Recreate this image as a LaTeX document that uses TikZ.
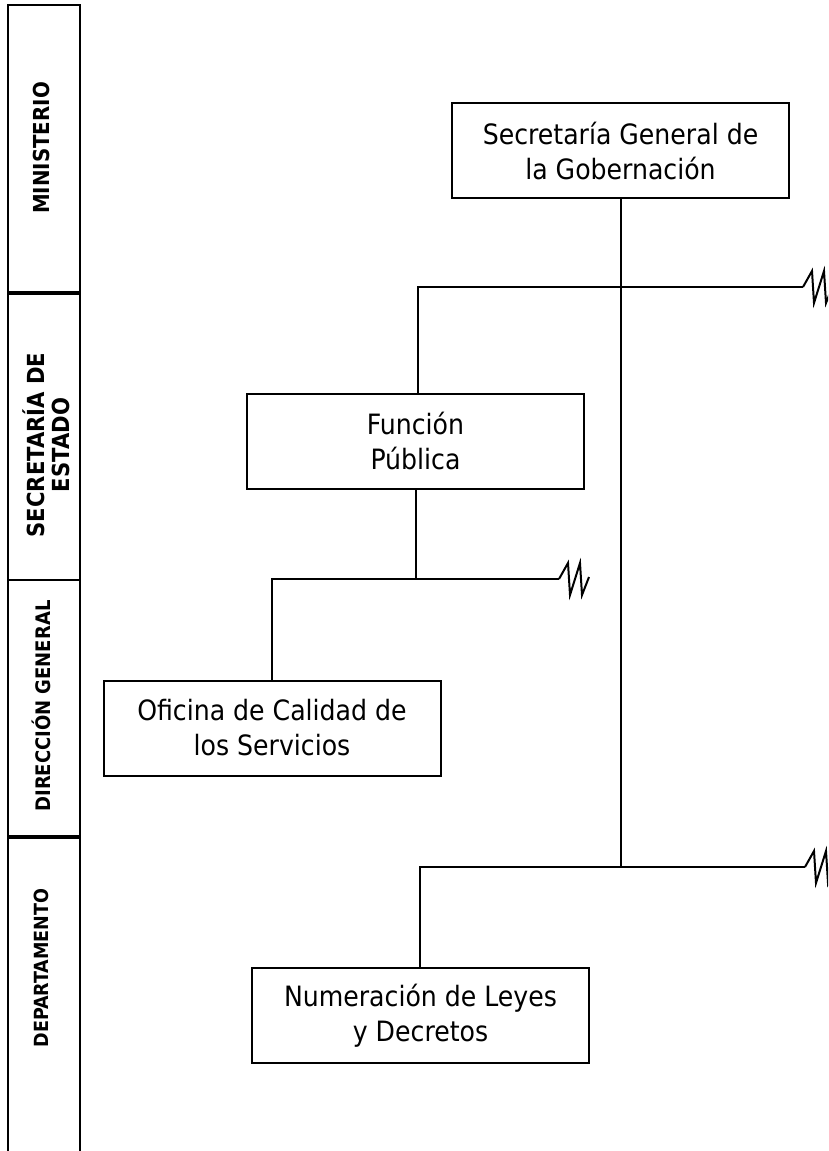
\documentclass[tikz,border=0pt]{standalone}
\usepackage{fontspec}
\setmainfont{DejaVu Sans Condensed}
\begin{document}
\begin{tikzpicture}[x=1pt, y=-1pt, line width=2pt,
  caja/.style={draw, rectangle, minimum width=337pt, minimum height=95pt, inner sep=0pt, align=center, font=\fontsize{28}{35}\selectfont},
  nivel/.style={rotate=90, align=center, font=\bfseries\fontsize{#1}{25}\selectfont},
  nivel/.default=20,
  corte/.pic={\draw (0,0) -- ++(9,-16) -- ++(2,32) -- ++(10,-32) -- ++(2,32) -- ++(7,-18);}]
  \useasboundingbox (0,0) rectangle (828,1151);
  \clip (0,0) rectangle (828,1151);
  % Columna de niveles
  \draw (8,5) rectangle (80,292);
  \draw (8,294) rectangle (80,580);
  \draw (8,580) rectangle (80,836);
  \draw (8,1160) -- (8,838) -- (80,838) -- (80,1160);
  \node[nivel=22]   (min) at (41,148) {MINISTERIO};
  \node[nivel=23.5] (sec) at (46,445) {SECRETARÍA DE\\ESTADO};
  \node[nivel]      (dir) at (41,706) {DIRECCIÓN GENERAL};
  \node[nivel=19.5] (dep) at (41,968) {DEPARTAMENTO};
  % Unidades
  \node[caja] (sgg) at (620.5,150.5) {Secretaría General de\\la Gobernación};
  \node[caja] (fp)  at (415.5,441)   {Función\\Pública};
  \node[caja] (ocs) at (272,728)     {Oficina de Calidad de\\los Servicios};
  \node[caja] (nld) at (420.5,1015.5) {Numeración de Leyes\\y Decretos};
  % Barras
  \coordinate (b1w) at (418,287);
  \coordinate (b1e) at (803,287);
  \coordinate (b2w) at (272,579);
  \coordinate (b2e) at (559,579);
  \coordinate (b3w) at (420,867);
  \coordinate (b3e) at (805,867);
  % Conectores
  \draw (sgg.south) -- (sgg.south |- b3e);
  \draw (fp.north -| b1w) -- (b1w) -- (b1e);
  \pic at (b1e) {corte};
  \draw (fp.south) -- (fp.south |- b2e);
  \draw (ocs.north) -- (b2w) -- (b2e);
  \pic at (b2e) {corte};
  \draw (nld.north -| b3w) -- (b3w) -- (b3e);
  \pic at (b3e) {corte};
\end{tikzpicture}
\end{document}
